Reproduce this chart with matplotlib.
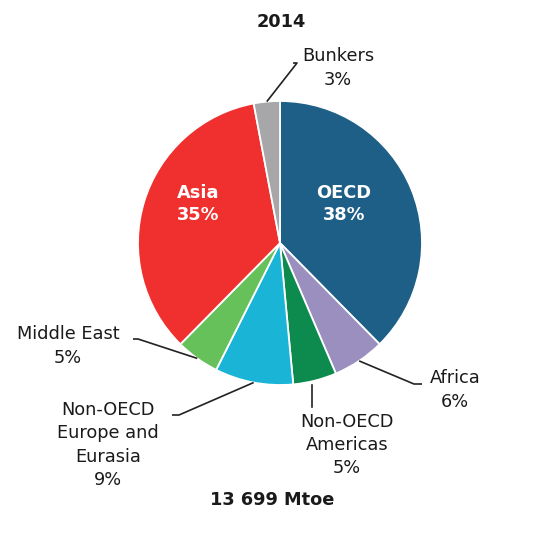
import numpy as np
import matplotlib
matplotlib.use("Agg")
import matplotlib.pyplot as plt

title = "2014"
total_label = "13 699 Mtoe"
categories = ["OECD", "Africa", "Non-OECD\nAmericas", "Non-OECD\nEurope and\nEurasia",
              "Middle East", "Asia", "Bunkers"]
shares = [38, 6, 5, 9, 5, 35, 3]
colors = ["#1d5f86", "#9b8fc0", "#0d8a4e", "#1ab4d6", "#66c15a", "#f0302e", "#a7a7a9"]

W, H = 540, 538
fig = plt.figure(figsize=(W / 100, H / 100), dpi=100)
ax = fig.add_axes([0, 0, 1, 1])

cx, cy, R = 280, H - 243, 142
wedges, _ = ax.pie(shares, colors=colors, startangle=90, counterclock=False,
                   center=(cx, cy), radius=R, frame=True,
                   wedgeprops=dict(edgecolor="white", linewidth=1.3))
ax.set_xlim(0, W)
ax.set_ylim(0, H)
ax.set_aspect("equal")
ax.axis("off")

fam = ["DejaVu Sans"]
fs = 12.8
ink = "#1a1a1a"

def text(x, y, s, color=ink, ls=1.38, **kw):
    ax.text(x, H - y, s, ha="center", va="center", family=fam, fontsize=fs,
            linespacing=ls, color=color, **kw)

text(281, 22, title, fontweight="bold")
text(272, 500, total_label, fontweight="bold")

# inner labels
text(198, 204, f"{categories[5]}\n{shares[5]}%", color="white", fontweight="bold", ls=1.25)
text(344, 204, f"{categories[0]}\n{shares[0]}%", color="white", fontweight="bold", ls=1.25)

def mid_point(i, rf=1.0):
    w = wedges[i]
    a = np.deg2rad((w.theta1 + w.theta2) / 2)
    return cx + R * rf * np.cos(a), cy + R * rf * np.sin(a)

def leader(i, pts):
    x0, y0 = mid_point(i)
    xs = [x0] + [p[0] for p in pts]
    ys = [y0] + [H - p[1] for p in pts]
    ax.plot(xs, ys, color="#222222", lw=1.2, solid_capstyle="butt")

# Bunkers
leader(6, [(297, 63), (293, 63)])
text(338, 68, f"Bunkers\n{shares[6]}%")
# Africa
leader(1, [(414, 384), (422, 384)])
text(455, 390, f"Africa\n{shares[1]}%")
# Non-OECD Americas
x_am, _ = mid_point(2)
ax.plot([x_am - 3, x_am - 3], [H - 385, H - 407], color="#222222", lw=1.2)
text(347, 445, f"{categories[2]}\n{shares[2]}%")
# Middle East
leader(4, [(138, 339), (133, 339)])
text(68, 346, f"{categories[4]}\n{shares[4]}%")
# Europe & Eurasia
leader(3, [(179, 415), (172, 415)])
text(108, 445, f"{categories[3]}\n{shares[3]}%")

fig.savefig("out.png", dpi=100, facecolor="white")
